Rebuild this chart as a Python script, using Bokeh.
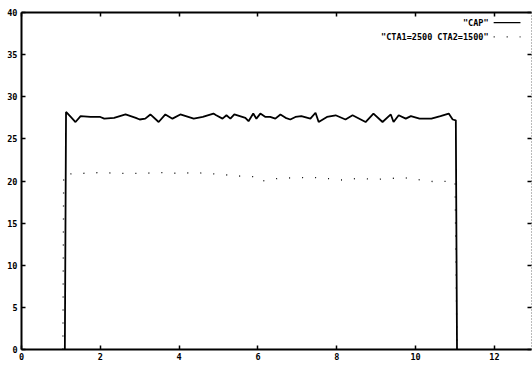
from bokeh.plotting import figure
from bokeh.models import LinearAxis, FixedTicker, Range1d, Label
from bokeh.embed import file_html
from bokeh.resources import INLINE

# ---- data ----
cap_x = [1.10, 1.13, 1.25, 1.37, 1.50, 1.75, 2.00, 2.10, 2.35, 2.64,
         2.90, 3.00, 3.14, 3.27, 3.48, 3.65, 3.83, 4.03, 4.37, 4.60,
         4.87, 4.94, 5.10, 5.20, 5.30, 5.40, 5.68, 5.76, 5.88, 5.96,
         6.06, 6.19, 6.31, 6.44, 6.57, 6.70, 6.82, 6.95, 7.10, 7.33,
         7.46, 7.54, 7.75, 7.97, 8.22, 8.40, 8.73, 8.93, 9.16, 9.37,
         9.44, 9.57, 9.75, 9.88, 10.10, 10.40, 10.63, 10.84, 10.94, 11.02,
         11.05]
cap_y = [0.0, 28.2, 27.6, 27.0, 27.7, 27.6, 27.6, 27.4, 27.5, 27.9,
         27.5, 27.3, 27.4, 27.9, 27.0, 27.9, 27.4, 27.9, 27.4, 27.6,
         28.0, 27.8, 27.4, 27.8, 27.4, 27.9, 27.5, 27.1, 28.0, 27.4,
         28.0, 27.6, 27.6, 27.4, 27.9, 27.5, 27.3, 27.6, 27.7, 27.4,
         28.1, 27.0, 27.6, 27.8, 27.3, 27.8, 27.0, 28.0, 27.0, 27.9,
         27.0, 27.8, 27.4, 27.7, 27.4, 27.4, 27.7, 28.0, 27.3, 27.2,
         0.0]

cta_x = [1.05, 1.07, 1.5, 2.0, 2.5, 3.0, 3.5, 4.0, 4.4, 5.0,
         5.5, 6.0, 6.1, 6.5, 7.0, 7.56, 8.17, 8.5, 9.0, 9.7,
         10.0, 10.5, 11.0, 11.05]
cta_y = [0.0, 20.8, 20.9, 21.0, 20.9, 20.9, 21.0, 20.9, 21.0, 20.8,
         20.6, 20.5, 20.0, 20.3, 20.4, 20.4, 20.1, 20.3, 20.2, 20.4,
         20.2, 19.9, 20.0, 0.0]

x_ticks = [0, 2, 4, 6, 8, 10, 12]
y_ticks = [0, 5, 10, 15, 20, 25, 30, 35, 40]
legend_labels = ['"CAP"', '"CTA1=2500 CTA2=1500"']

FONT = "DejaVu Sans Mono"
FSIZE = "8.5px"

p = figure(width=532, height=370, output_backend="svg", toolbar_location=None,
           x_range=Range1d(0, 12.94), y_range=Range1d(0, 40),
           min_border_left=21, min_border_right=1,
           min_border_top=12, min_border_bottom=21)
p.outline_line_color = None
p.grid.visible = False
p.background_fill_color = "white"
p.border_fill_color = "white"


def style(ax, ticks, labels=True):
    ax.ticker = FixedTicker(ticks=ticks)
    ax.major_tick_in = 4
    ax.major_tick_out = 0
    ax.minor_tick_line_color = None
    ax.axis_line_width = 2
    ax.axis_line_color = "black"
    ax.major_tick_line_width = 1.5
    ax.major_tick_line_color = "black"
    ax.major_label_standoff = 3
    if labels:
        ax.major_label_text_font = FONT
        ax.major_label_text_font_style = "bold"
        ax.major_label_text_font_size = FSIZE
        ax.major_label_text_color = "black"
    else:
        ax.major_label_text_font_size = "0px"
        ax.major_label_text_color = None
        ax.major_label_standoff = 0


style(p.xaxis[0], x_ticks)
style(p.yaxis[0], y_ticks)
p.yaxis[0].major_label_standoff = 4

top = LinearAxis()
style(top, x_ticks, labels=False)
p.add_layout(top, "above")

right = LinearAxis()
style(right, y_ticks, labels=False)
right.axis_line_width = 1
right.axis_line_color = "#777777"
right.axis_line_dash = "1 2"
p.add_layout(right, "right")

# series
p.line(cap_x, cap_y, line_color="black", line_width=1.8)
p.line(cta_x, cta_y, line_color="black", line_width=1.3, line_dash="1 12")

# legend (gnuplot style: text then sample)
lx_text = 11.85
ly = [38.8, 37.1]
for lbl, yy in zip(legend_labels, ly):
    p.add_layout(Label(x=lx_text, y=yy, text=lbl, text_align="right",
                       text_baseline="middle", text_font=FONT,
                       text_font_style="bold", text_font_size=FSIZE,
                       text_color="black"))
p.line([11.98, 12.66], [ly[0], ly[0]], line_color="black", line_width=1.4)
p.line([11.98, 12.66], [ly[1], ly[1]], line_color="black", line_width=1.3,
       line_dash="1 12")

open("out.html", "w").write(file_html(p, INLINE))
